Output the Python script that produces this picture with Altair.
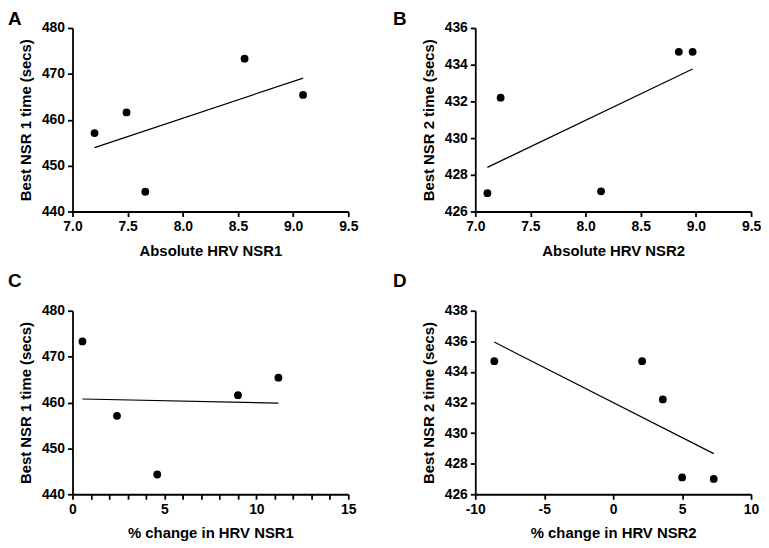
import altair as alt
import pandas as pd

# ---- data ----
# subjects in the same order in every list
hrv_abs_nsr1 = [7.20, 7.49, 7.66, 8.56, 9.09]
nsr1_time = [457.1, 461.6, 444.3, 473.3, 465.4]
pct_change_nsr1 = [2.42, 9.0, 4.61, 0.54, 11.2]

hrv_abs_nsr2 = [7.11, 7.23, 8.14, 8.845, 8.97]
nsr2_time = [427.0, 432.2, 427.1, 434.7, 434.7]
pct_change_nsr2 = [-8.62, 3.6, 5.0, 7.29, 2.1]
nsr2_time_d = [434.7, 432.2, 427.1, 427.0, 434.7]

FONT = "Liberation Sans"
W, H = 278, 185


def panel(xs, ys, xtitle, ytitle, xdom, ydom, xticks, yticks, letter, ldx, ldy, label_expr=None):
    df = pd.DataFrame({"x": xs, "y": ys})
    xaxis_kw = dict(title=xtitle, values=xticks, labelFlush=False, labelOverlap=False,
                    titlePadding=10, labelPadding=3)
    if label_expr:
        xaxis_kw["labelExpr"] = label_expr
    x_enc = alt.X("x:Q", scale=alt.Scale(domain=xdom, nice=False, zero=False),
                  axis=alt.Axis(**xaxis_kw))
    y_enc = alt.Y("y:Q", scale=alt.Scale(domain=ydom, nice=False, zero=False),
                  axis=alt.Axis(title=ytitle, values=yticks, labelOverlap=False,
                                titlePadding=8, labelPadding=3))
    pts = alt.Chart(df).mark_circle(size=62, color="black", opacity=1).encode(x=x_enc, y=y_enc)
    line = (alt.Chart(df).transform_regression("x", "y")
            .mark_line(color="black", strokeWidth=1.2).encode(x=x_enc, y=y_enc))
    lab = (alt.Chart(pd.DataFrame({"t": [letter]}))
           .mark_text(align="left", baseline="top", fontSize=19, fontWeight="bold",
                      font=FONT, color="black")
           .encode(text="t:N", x=alt.value(ldx), y=alt.value(ldy)))
    return alt.layer(pts, line, lab).properties(width=W, height=H)


a = panel(hrv_abs_nsr1, nsr1_time, "Absolute HRV NSR1", "Best NSR 1 time (secs)",
          [7.0, 9.5], [440, 480], [7.0, 7.5, 8.0, 8.5, 9.0, 9.5], [440, 450, 460, 470, 480],
          "A", -65, -18)
b = panel(hrv_abs_nsr2, nsr2_time, "Absolute HRV NSR2", "Best NSR 2 time (secs)",
          [7.0, 9.5], [426, 436], [7.0, 7.5, 8.0, 8.5, 9.0, 9.5], [426, 428, 430, 432, 434, 436],
          "B", -83, -18)
c = panel(pct_change_nsr1, nsr1_time, "% change in HRV NSR1", "Best NSR 1 time (secs)",
          [0, 15], [440, 480], list(range(0, 16)), [440, 450, 460, 470, 480],
          "C", -65, -39, label_expr="datum.value % 5 == 0 ? datum.label : ''")
d = panel(pct_change_nsr2, nsr2_time_d, "% change in HRV NSR2", "Best NSR 2 time (secs)",
          [-10, 10], [426, 438], [-10, -5, 0, 5, 10], [426, 428, 430, 432, 434, 436, 438],
          "D", -83, -39, label_expr="'' + datum.value")

chart = (alt.concat(a, b, c, d, columns=2,
                    spacing=alt.RowColnumber(row=100, column=128), bounds="flush")
         .properties(padding=0)
         .configure_view(stroke=None)
         .configure_axis(domainColor="black", tickColor="black", labelColor="black",
                         titleColor="black", labelFont=FONT, titleFont=FONT,
                         labelFontWeight="bold", titleFontWeight="bold",
                         labelFontSize=14, titleFontSize=15, grid=False,
                         domainWidth=1.8, tickWidth=1.8, tickSize=5))

chart.save("out.html", embed_options={"renderer": "svg", "actions": False})
